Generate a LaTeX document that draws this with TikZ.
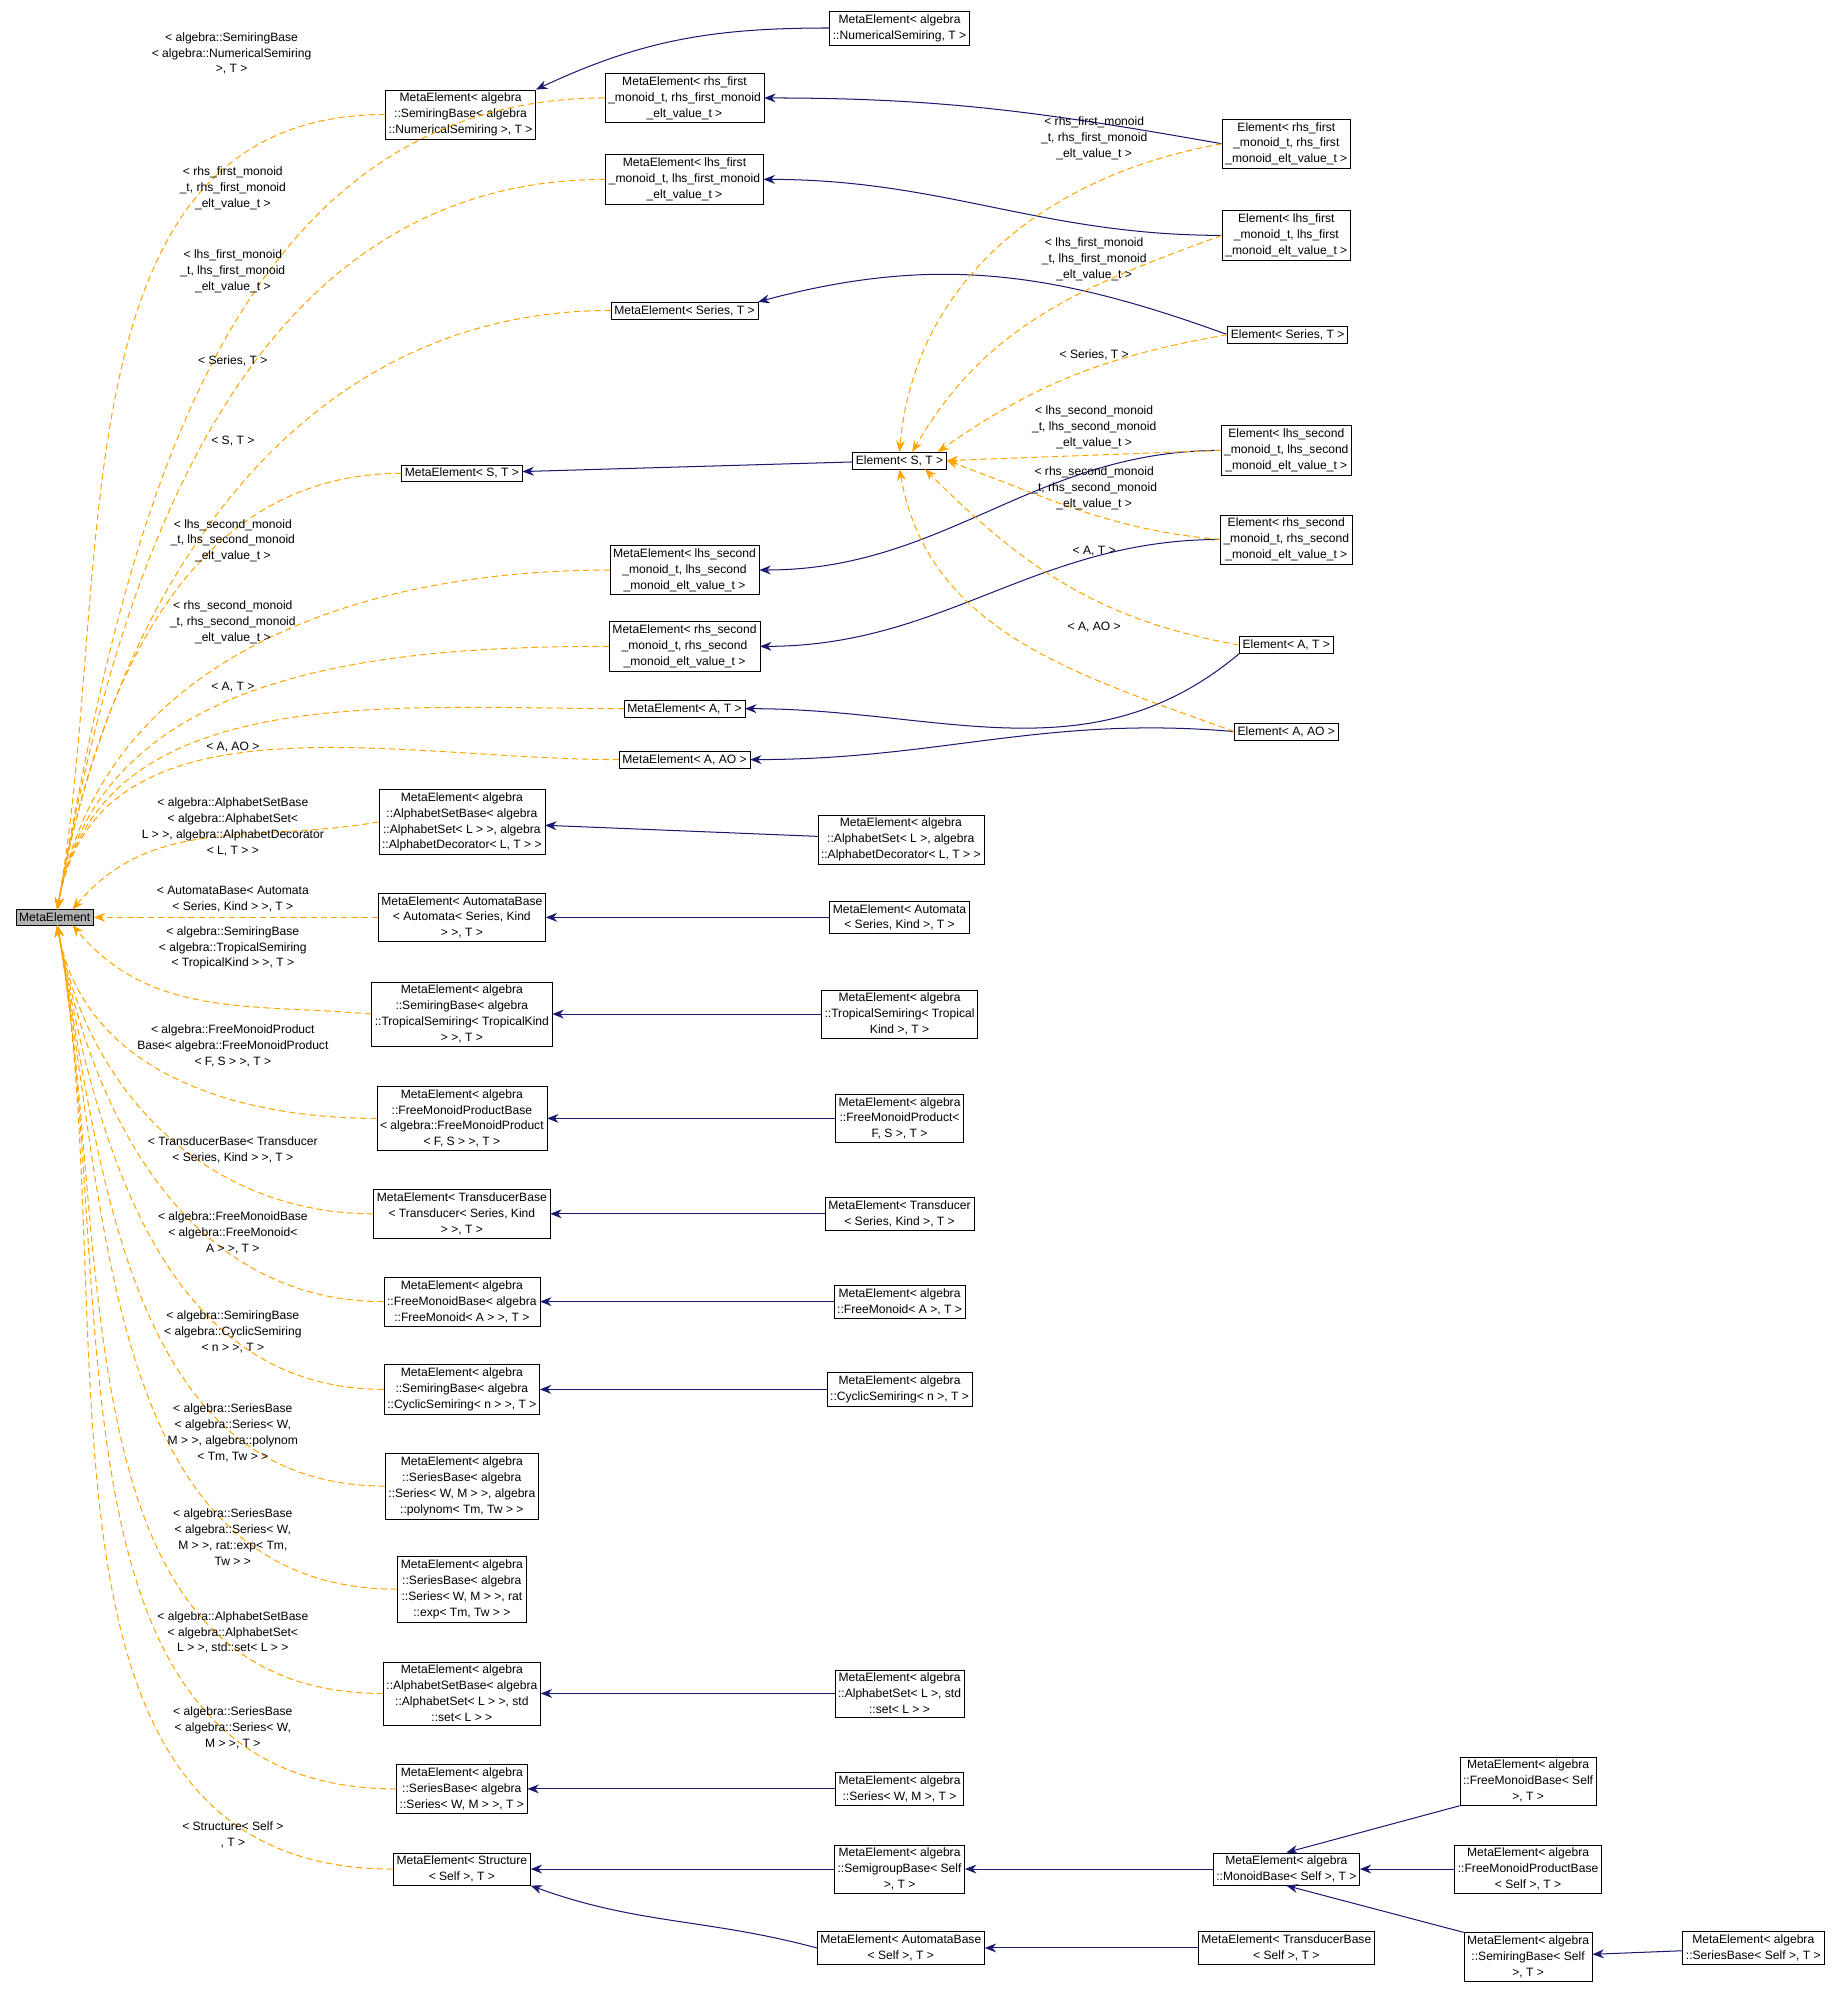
\documentclass[tikz,border=0pt]{standalone}
\usepackage{fontspec}
\setmainfont{Liberation Sans}
\usetikzlibrary{arrows.meta}
\definecolor{navyline}{RGB}{25,25,112}
\definecolor{orangeline}{RGB}{255,165,0}
\begin{document}
\begin{tikzpicture}[x=1pt,y=-1pt,
  box/.style={draw, fill=white, align=center, inner sep=2.5pt, font=\fontsize{9.5}{12.5}\selectfont},
  lbl/.style={align=center, inner sep=0pt, font=\fontsize{9.5}{12.5}\selectfont},
  inh/.style={draw=navyline, line width=0.8pt, -{Stealth[length=9pt,width=7pt]}, fill=none},
  tpl/.style={draw=orangeline, line width=0.8pt, dashed, dash pattern=on 5pt off 3pt, -{Stealth[length=9pt,width=7pt]}}]
\useasboundingbox (0,0) rectangle (1450,1568);
\node[box, fill=gray!60] (ME) at (43,721) {MetaElement};
\node[box] (n1) at (707,22) {MetaElement< algebra\\::NumericalSemiring, T >};
\node[box] (n2) at (362,90) {MetaElement< algebra\\::SemiringBase< algebra\\::NumericalSemiring >, T >};
\node[box] (n3) at (538,77) {MetaElement< rhs\_first\\\_monoid\_t, rhs\_first\_monoid\\\_elt\_value\_t >};
\node[box] (n4) at (538,141) {MetaElement< lhs\_first\\\_monoid\_t, lhs\_first\_monoid\\\_elt\_value\_t >};
\node[box] (n5) at (1011,113) {Element< rhs\_first\\\_monoid\_t, rhs\_first\\\_monoid\_elt\_value\_t >};
\node[box] (n6) at (1011,185) {Element< lhs\_first\\\_monoid\_t, lhs\_first\\\_monoid\_elt\_value\_t >};
\node[box] (n7) at (538,244) {MetaElement< Series, T >};
\node[box] (n8) at (1012,263) {Element< Series, T >};
\node[box] (n9) at (363,372) {MetaElement< S, T >};
\node[box] (n10) at (707,362) {Element< S, T >};
\node[box] (n11) at (1011,354) {Element< lhs\_second\\\_monoid\_t, lhs\_second\\\_monoid\_elt\_value\_t >};
\node[box] (n12) at (1011,424) {Element< rhs\_second\\\_monoid\_t, rhs\_second\\\_monoid\_elt\_value\_t >};
\node[box] (n13) at (538,448) {MetaElement< lhs\_second\\\_monoid\_t, lhs\_second\\\_monoid\_elt\_value\_t >};
\node[box] (n14) at (538,508) {MetaElement< rhs\_second\\\_monoid\_t, rhs\_second\\\_monoid\_elt\_value\_t >};
\node[box] (n15) at (538,557) {MetaElement< A, T >};
\node[box] (n16) at (1011,507) {Element< A, T >};
\node[box] (n17) at (538,597) {MetaElement< A, AO >};
\node[box] (n18) at (1011,575) {Element< A, AO >};
\node[box] (n19) at (363,646) {MetaElement< algebra\\::AlphabetSetBase< algebra\\::AlphabetSet< L > >, algebra\\::AlphabetDecorator< L, T > >};
\node[box] (n20) at (708,660) {MetaElement< algebra\\::AlphabetSet< L >, algebra\\::AlphabetDecorator< L, T > >};
\node[box] (n21) at (363,721) {MetaElement< AutomataBase\\< Automata< Series, Kind\\> >, T >};
\node[box] (n22) at (707,721) {MetaElement< Automata\\< Series, Kind >, T >};
\node[box] (n23) at (363,797) {MetaElement< algebra\\::SemiringBase< algebra\\::TropicalSemiring< TropicalKind\\> >, T >};
\node[box] (n24) at (707,797) {MetaElement< algebra\\::TropicalSemiring< Tropical\\Kind >, T >};
\node[box] (n25) at (363,879) {MetaElement< algebra\\::FreeMonoidProductBase\\< algebra::FreeMonoidProduct\\< F, S > >, T >};
\node[box] (n26) at (707,879) {MetaElement< algebra\\::FreeMonoidProduct<\\F, S >, T >};
\node[box] (n27) at (363,954) {MetaElement< TransducerBase\\< Transducer< Series, Kind\\> >, T >};
\node[box] (n28) at (707,954) {MetaElement< Transducer\\< Series, Kind >, T >};
\node[box] (n29) at (363,1023) {MetaElement< algebra\\::FreeMonoidBase< algebra\\::FreeMonoid< A > >, T >};
\node[box] (n30) at (707,1023) {MetaElement< algebra\\::FreeMonoid< A >, T >};
\node[box] (n31) at (363,1092) {MetaElement< algebra\\::SemiringBase< algebra\\::CyclicSemiring< n > >, T >};
\node[box] (n32) at (707,1092) {MetaElement< algebra\\::CyclicSemiring< n >, T >};
\node[box] (n33) at (363,1168) {MetaElement< algebra\\::SeriesBase< algebra\\::Series< W, M > >, algebra\\::polynom< Tm, Tw > >};
\node[box] (n34) at (363,1249) {MetaElement< algebra\\::SeriesBase< algebra\\::Series< W, M > >, rat\\::exp< Tm, Tw > >};
\node[box] (n35) at (363,1331) {MetaElement< algebra\\::AlphabetSetBase< algebra\\::AlphabetSet< L > >, std\\::set< L > >};
\node[box] (n36) at (707,1331) {MetaElement< algebra\\::AlphabetSet< L >, std\\::set< L > >};
\node[box] (n37) at (363,1406) {MetaElement< algebra\\::SeriesBase< algebra\\::Series< W, M > >, T >};
\node[box] (n38) at (707,1406) {MetaElement< algebra\\::Series< W, M >, T >};
\node[box] (n39) at (363,1469) {MetaElement< Structure\\< Self >, T >};
\node[box] (n40) at (707,1469) {MetaElement< algebra\\::SemigroupBase< Self\\>, T >};
\node[box] (n41) at (1011,1469) {MetaElement< algebra\\::MonoidBase< Self >, T >};
\node[box] (n42) at (708,1531) {MetaElement< AutomataBase\\< Self >, T >};
\node[box] (n43) at (1011,1531) {MetaElement< TransducerBase\\< Self >, T >};
\node[box] (n44) at (1201,1400) {MetaElement< algebra\\::FreeMonoidBase< Self\\>, T >};
\node[box] (n45) at (1201,1469) {MetaElement< algebra\\::FreeMonoidProductBase\\< Self >, T >};
\node[box] (n46) at (1201,1538) {MetaElement< algebra\\::SemiringBase< Self\\>, T >};
\node[box] (n47) at (1378,1531) {MetaElement< algebra\\::SeriesBase< Self >, T >};
% inheritance
\draw[inh] (n1.west) to[out=180,in=25] (n2.north east);
\draw[inh] (n5.west) to[out=170,in=0] (n3.east);
\draw[inh] (n6.west) to[out=180,in=0] (n4.east);
\draw[inh] (n8.west) to[out=160,in=15] (n7.north east);
\draw[inh] (n10) -- (n9);
\draw[inh] (n11.west) to[out=180,in=0] (n13.east);
\draw[inh] (n12.west) to[out=180,in=0] (n14.east);
\draw[inh] (n16.south west) to[out=-140,in=0] (n15.east);
\draw[inh] (n18.west) to[out=175,in=0] (n17.east);
\draw[inh] (n20) -- (n19);
\draw[inh] (n22) -- (n21);
\draw[inh] (n24) -- (n23);
\draw[inh] (n26) -- (n25);
\draw[inh] (n28) -- (n27);
\draw[inh] (n30) -- (n29);
\draw[inh] (n32) -- (n31);
\draw[inh] (n36) -- (n35);
\draw[inh] (n38) -- (n37);
\draw[inh] (n40) -- (n39);
\draw[inh] (n42.west) to[out=165,in=-20] (n39.south east);
\draw[inh] (n41) -- (n40);
\draw[inh] (n43) -- (n42);
\draw[inh] (n44.south west) -- (n41.north);
\draw[inh] (n45) -- (n41);
\draw[inh] (n46.north west) -- (n41.south);
\draw[inh] (n47) -- (n46);
% template edges to MetaElement
\foreach \s in {n2,n3,n4,n7,n9,n13,n14,n15,n17}
  \draw[tpl] (\s.west) to[out=180,in=80] ([xshift=2pt]ME.north);
\draw[tpl] (n19.west) to[out=190,in=50] ([xshift=14pt]ME.north);
\draw[tpl] (n21.west) -- (ME.east);
\draw[tpl] (n23.west) to[out=175,in=-50] ([xshift=14pt]ME.south);
\foreach \s in {n25,n27,n29,n31,n33,n34,n35,n37,n39}
  \draw[tpl] (\s.west) to[out=180,in=-80] ([xshift=2pt]ME.south);
% template edges to Element<S,T>
\draw[tpl] (n5.west) to[out=190,in=85] (n10.north);
\draw[tpl] (n6.west) to[out=200,in=60] ([xshift=10pt]n10.north);
\draw[tpl] (n8.west) to[out=190,in=35] ([xshift=30pt]n10.north);
\draw[tpl] (n11.west) -- (n10.east);
\draw[tpl] (n12.west) to[out=175,in=-20] (n10.east);
\draw[tpl] (n16.west) to[out=170,in=-45] ([xshift=20pt]n10.south);
\draw[tpl] (n18.west) to[out=160,in=-80] (n10.south);
% labels
\node[lbl] (l2) at (182,42) {< algebra::SemiringBase\\< algebra::NumericalSemiring\\>, T >};
\node[lbl] (l3) at (183,148) {< rhs\_first\_monoid\\\_t, rhs\_first\_monoid\\\_elt\_value\_t >};
\node[lbl] (l4) at (183,213) {< lhs\_first\_monoid\\\_t, lhs\_first\_monoid\\\_elt\_value\_t >};
\node[lbl] (l7) at (183,284) {< Series, T >};
\node[lbl] (l9) at (183,347) {< S, T >};
\node[lbl] (l13) at (183,425) {< lhs\_second\_monoid\\\_t, lhs\_second\_monoid\\\_elt\_value\_t >};
\node[lbl] (l14) at (183,489) {< rhs\_second\_monoid\\\_t, rhs\_second\_monoid\\\_elt\_value\_t >};
\node[lbl] (l15) at (183,540) {< A, T >};
\node[lbl] (l17) at (183,587) {< A, AO >};
\node[lbl] (l19) at (183,650) {< algebra::AlphabetSetBase\\< algebra::AlphabetSet<\\L > >, algebra::AlphabetDecorator\\< L, T > >};
\node[lbl] (l21) at (183,707) {< AutomataBase< Automata\\< Series, Kind > >, T >};
\node[lbl] (l23) at (183,745) {< algebra::SemiringBase\\< algebra::TropicalSemiring\\< TropicalKind > >, T >};
\node[lbl] (l25) at (183,822) {< algebra::FreeMonoidProduct\\Base< algebra::FreeMonoidProduct\\< F, S > >, T >};
\node[lbl] (l27) at (183,904) {< TransducerBase< Transducer\\< Series, Kind > >, T >};
\node[lbl] (l29) at (183,969) {< algebra::FreeMonoidBase\\< algebra::FreeMonoid<\\A > >, T >};
\node[lbl] (l31) at (183,1047) {< algebra::SemiringBase\\< algebra::CyclicSemiring\\< n > >, T >};
\node[lbl] (l33) at (183,1126) {< algebra::SeriesBase\\< algebra::Series< W,\\M > >, algebra::polynom\\< Tm, Tw > >};
\node[lbl] (l34) at (183,1208) {< algebra::SeriesBase\\< algebra::Series< W,\\M > >, rat::exp< Tm,\\Tw > >};
\node[lbl] (l35) at (183,1283) {< algebra::AlphabetSetBase\\< algebra::AlphabetSet<\\L > >, std::set< L > >};
\node[lbl] (l37) at (183,1358) {< algebra::SeriesBase\\< algebra::Series< W,\\M > >, T >};
\node[lbl] (l39) at (183,1442) {< Structure< Self >\\, T >};
\node[lbl] (m5) at (860,109) {< rhs\_first\_monoid\\\_t, rhs\_first\_monoid\\\_elt\_value\_t >};
\node[lbl] (m6) at (860,204) {< lhs\_first\_monoid\\\_t, lhs\_first\_monoid\\\_elt\_value\_t >};
\node[lbl] (m8) at (860,279) {< Series, T >};
\node[lbl] (m11) at (860,336) {< lhs\_second\_monoid\\\_t, lhs\_second\_monoid\\\_elt\_value\_t >};
\node[lbl] (m12) at (860,384) {< rhs\_second\_monoid\\\_t, rhs\_second\_monoid\\\_elt\_value\_t >};
\node[lbl] (m16) at (860,433) {< A, T >};
\node[lbl] (m18) at (860,493) {< A, AO >};
\end{tikzpicture}
\end{document}
